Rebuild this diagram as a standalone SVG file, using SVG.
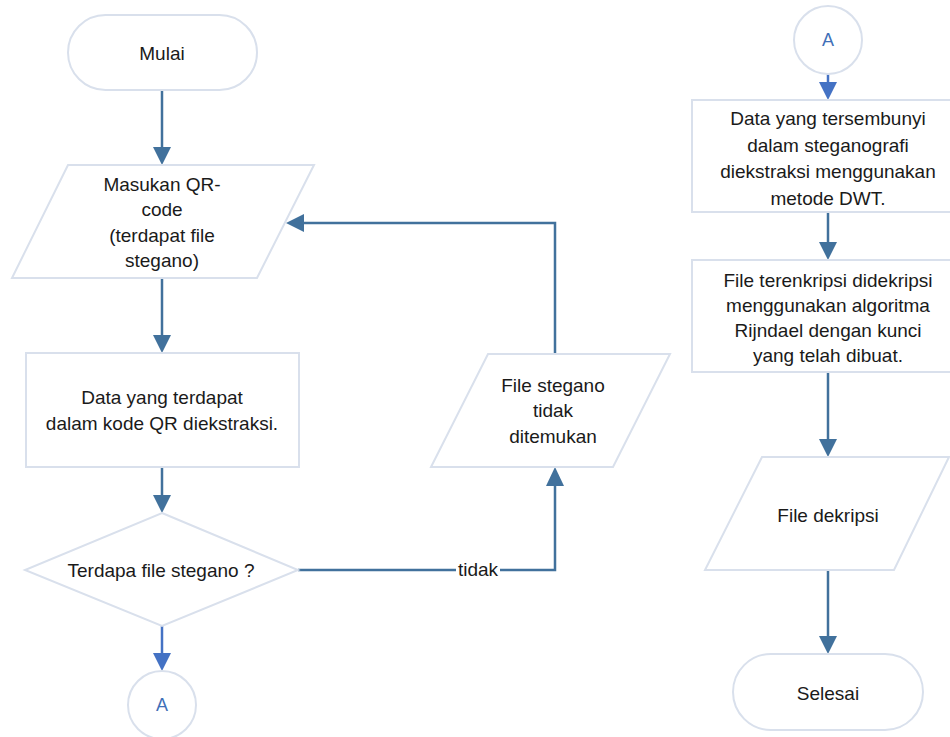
<svg xmlns="http://www.w3.org/2000/svg" width="950" height="737" viewBox="0 0 950 737">
<style>
.s{fill:#fff;stroke:#D9E0EC;stroke-width:2}
.t{font-family:"Liberation Sans",Arial,sans-serif;font-size:19px;fill:#1a1a1a;text-anchor:middle}
.a{font-family:"Liberation Sans",Arial,sans-serif;font-size:18px;fill:#3F70B8;text-anchor:middle}
.c{fill:none;stroke:#41719C;stroke-width:2.5}
.cb{fill:none;stroke:#4472C4;stroke-width:2.5}
.h{fill:#41719C}
.hb{fill:#4472C4}
</style>
<rect width="950" height="737" fill="#fff"/>
<g id="connectors">
  <line class="c" x1="162" y1="90" x2="162" y2="150"/>
  <polygon class="h" points="153,147 171,147 162,165"/>
  <line class="c" x1="162" y1="278" x2="162" y2="338"/>
  <polygon class="h" points="153,335 171,335 162,353"/>
  <line class="c" x1="162" y1="467" x2="162" y2="498"/>
  <polygon class="h" points="153,495 171,495 162,513"/>
  <line class="cb" x1="162" y1="626" x2="162" y2="656"/>
  <polygon class="hb" points="153,653 171,653 162,671"/>
  <polyline class="c" points="298,570 555,570 555,484"/>
  <polygon class="h" points="546,486 564,486 555,467"/>
  <polyline class="c" points="555,354 555,223 302,223"/>
  <polygon class="h" points="304,214 304,232 286,223"/>
  <rect x="456" y="560" width="44" height="20" fill="#fff"/>
  <text class="t" x="478" y="576">tidak</text>
  <line class="cb" x1="828" y1="74" x2="828" y2="85"/>
  <polygon class="hb" points="819,82 837,82 828,100"/>
  <line class="c" x1="828" y1="212" x2="828" y2="245"/>
  <polygon class="h" points="819,242 837,242 828,260"/>
  <line class="c" x1="828" y1="372" x2="828" y2="442"/>
  <polygon class="h" points="819,439 837,439 828,457"/>
  <line class="c" x1="828" y1="570" x2="828" y2="639"/>
  <polygon class="h" points="819,636 837,636 828,654"/>
</g>
<g id="mulai">
  <rect class="s" x="68" y="15" width="189" height="75" rx="37.5"/>
  <text class="t" x="162" y="60">Mulai</text>
</g>
<g id="input-qr">
  <polygon class="s" points="68,165 314,165 257,278 12,278"/>
  <text class="t" x="162" y="191">Masukan QR-</text>
  <text class="t" x="162" y="216">code</text>
  <text class="t" x="162" y="242">(terdapat file</text>
  <text class="t" x="162" y="267">stegano)</text>
</g>
<g id="ekstrak-qr">
  <rect class="s" x="26" y="353" width="273" height="114"/>
  <text class="t" x="162" y="404">Data yang terdapat</text>
  <text class="t" x="162" y="430">dalam kode QR diekstraksi.</text>
</g>
<g id="decision">
  <polygon class="s" points="162,513 298,570 162,626 25,570"/>
  <text class="t" x="161" y="577">Terdapa file stegano ?</text>
</g>
<g id="connector-a1">
  <circle class="s" cx="162" cy="705" r="34"/>
  <text class="a" x="162" y="711">A</text>
</g>
<g id="tidak-ditemukan">
  <polygon class="s" points="488,354 670,354 613,467 431,467"/>
  <text class="t" x="553" y="392">File stegano</text>
  <text class="t" x="553" y="417">tidak</text>
  <text class="t" x="553" y="443">ditemukan</text>
</g>
<g id="connector-a2">
  <circle class="s" cx="828" cy="40" r="34"/>
  <text class="a" x="828" y="46">A</text>
</g>
<g id="ekstrak-dwt">
  <rect class="s" x="692" y="100" width="272" height="112"/>
  <text class="t" x="828" y="125">Data yang tersembunyi</text>
  <text class="t" x="828" y="152">dalam steganografi</text>
  <text class="t" x="828" y="178">diekstraksi menggunakan</text>
  <text class="t" x="828" y="205">metode DWT.</text>
</g>
<g id="dekripsi">
  <rect class="s" x="692" y="260" width="272" height="112"/>
  <text class="t" x="828" y="287">File terenkripsi didekripsi</text>
  <text class="t" x="828" y="312">menggunakan algoritma</text>
  <text class="t" x="828" y="337">Rijndael dengan kunci</text>
  <text class="t" x="828" y="362">yang telah dibuat.</text>
</g>
<g id="file-dekripsi">
  <polygon class="s" points="762,457 949,457 894,570 705,570"/>
  <text class="t" x="828" y="522">File dekripsi</text>
</g>
<g id="selesai">
  <rect class="s" x="733" y="654" width="190" height="76" rx="38"/>
  <text class="t" x="828" y="700">Selesai</text>
</g>
</svg>
